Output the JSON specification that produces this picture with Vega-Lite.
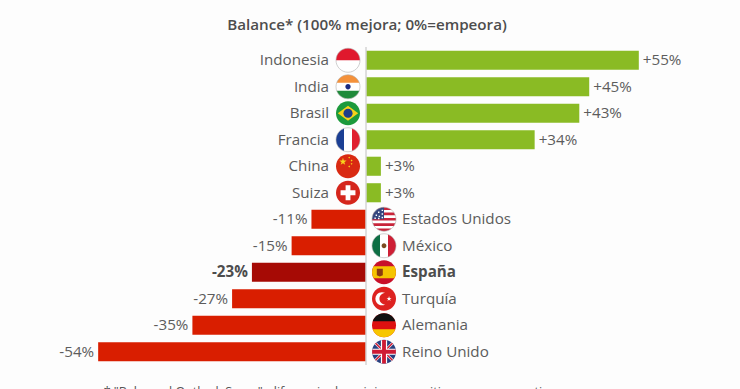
{"$schema":"https://vega.github.io/schema/vega-lite/v6.json","width":740,"height":318,"autosize":{"type":"none"},"padding":{"top":47,"bottom":24,"left":0,"right":0},"background":"#fdfdfd","view":{"stroke":null},
"title":{"text":"Balance* (100% mejora; 0%=empeora)","font":"Open Sans","fontSize":15.2,"fontWeight":600,"color":"#4d4d4d","anchor":"middle","frame":"group","offset":13,"dx":-3},
"datasets":{"paises":[
{"pais":"Indonesia","valor":55,"etiqueta":"+55%","tipo":"sube"},
{"pais":"India","valor":45,"etiqueta":"+45%","tipo":"sube"},
{"pais":"Brasil","valor":43,"etiqueta":"+43%","tipo":"sube"},
{"pais":"Francia","valor":34,"etiqueta":"+34%","tipo":"sube"},
{"pais":"China","valor":3,"etiqueta":"+3%","tipo":"sube"},
{"pais":"Suiza","valor":3,"etiqueta":"+3%","tipo":"sube"},
{"pais":"Estados Unidos","valor":-11,"etiqueta":"-11%","tipo":"baja"},
{"pais":"México","valor":-15,"etiqueta":"-15%","tipo":"baja"},
{"pais":"España","valor":-23,"etiqueta":"-23%","tipo":"espana"},
{"pais":"Turquía","valor":-27,"etiqueta":"-27%","tipo":"baja"},
{"pais":"Alemania","valor":-35,"etiqueta":"-35%","tipo":"baja"},
{"pais":"Reino Unido","valor":-54,"etiqueta":"-54%","tipo":"baja"}],
"banderas":[
{"pais":"Indonesia","lado":"pos","parte":"id-blanco"},{"pais":"Indonesia","lado":"pos","parte":"id-rojo"},
{"pais":"India","lado":"pos","parte":"in-blanco"},{"pais":"India","lado":"pos","parte":"in-naranja"},{"pais":"India","lado":"pos","parte":"in-verde"},{"pais":"India","lado":"pos","parte":"in-rueda"},
{"pais":"Brasil","lado":"pos","parte":"br-verde"},{"pais":"Brasil","lado":"pos","parte":"br-rombo"},{"pais":"Brasil","lado":"pos","parte":"br-globo"},
{"pais":"Francia","lado":"pos","parte":"fr-blanco"},{"pais":"Francia","lado":"pos","parte":"fr-azul"},{"pais":"Francia","lado":"pos","parte":"fr-rojo"},
{"pais":"China","lado":"pos","parte":"cn-rojo"},{"pais":"China","lado":"pos","parte":"cn-estrellas"},
{"pais":"Suiza","lado":"pos","parte":"ch-rojo"},{"pais":"Suiza","lado":"pos","parte":"ch-cruz"},
{"pais":"Estados Unidos","lado":"neg","parte":"us-blanco"},{"pais":"Estados Unidos","lado":"neg","parte":"us-rayas"},{"pais":"Estados Unidos","lado":"neg","parte":"us-azul"},{"pais":"Estados Unidos","lado":"neg","parte":"us-puntos"},
{"pais":"México","lado":"neg","parte":"mx-blanco"},{"pais":"México","lado":"neg","parte":"mx-verde"},{"pais":"México","lado":"neg","parte":"mx-rojo"},{"pais":"México","lado":"neg","parte":"mx-aguila"},
{"pais":"España","lado":"neg","parte":"es-rojo"},{"pais":"España","lado":"neg","parte":"es-amarillo"},{"pais":"España","lado":"neg","parte":"es-escudo"},
{"pais":"Turquía","lado":"neg","parte":"tr-rojo"},{"pais":"Turquía","lado":"neg","parte":"tr-luna"},
{"pais":"Alemania","lado":"neg","parte":"de-rojo"},{"pais":"Alemania","lado":"neg","parte":"de-negro"},{"pais":"Alemania","lado":"neg","parte":"de-amarillo"},
{"pais":"Reino Unido","lado":"neg","parte":"uk-azul"},{"pais":"Reino Unido","lado":"neg","parte":"uk-aspa-blanca"},{"pais":"Reino Unido","lado":"neg","parte":"uk-aspa-roja"},{"pais":"Reino Unido","lado":"neg","parte":"uk-cruz-blanca"},{"pais":"Reino Unido","lado":"neg","parte":"uk-cruz-roja"}]},
"data":{"name":"paises"},
"encoding":{
"y":{"field":"pais","type":"nominal","sort":null,"axis":null,"scale":{"domain":["Indonesia","India","Brasil","Francia","China","Suiza","Estados Unidos","México","España","Turquía","Alemania","Reino Unido"],"paddingInner":0.28,"paddingOuter":0.14}}},
"layer":[
{"mark":{"type":"bar"},"encoding":{
"x":{"field":"valor","type":"quantitative","scale":{"domain":[-73.79,75.4],"nice":false,"zero":false},"axis":{"domain":false,"ticks":false,"labels":false,"grid":false,"title":"* \"Balanced Outlook Score\": diferencia de opiniones positivas menos negativas","titleFont":"Open Sans","titleFontSize":12.5,"titleFontWeight":"normal","titleColor":"#555555","titleX":332,"titleY":30,"titleBaseline":"alphabetic","titleAnchor":"middle"}},
"color":{"field":"tipo","type":"nominal","legend":null,"scale":{"domain":["sube","baja","espana"],"range":["#8abb24","#d91e00","#a60a05"]}}}},
{"data":{"values":[{"cero":0}]},"mark":{"type":"rule","color":"#d4d4d4","strokeWidth":1.5},"encoding":{"y":{},"x":{"field":"cero","type":"quantitative"}}},
{"transform":[{"filter":"datum.valor>0"}],"mark":{"type":"text","align":"right","baseline":"middle","dx":-37,"font":"Open Sans","fontSize":15.2,"color":"#5c5c5c"},"encoding":{"x":{"datum":0},"text":{"field":"pais"}}},
{"transform":[{"filter":"datum.valor<0 && datum.tipo!='espana'"}],"mark":{"type":"text","align":"left","baseline":"middle","dx":36,"font":"Open Sans","fontSize":15.2,"color":"#5c5c5c"},"encoding":{"x":{"datum":0},"text":{"field":"pais"}}},
{"transform":[{"filter":"datum.tipo=='espana'"}],"mark":{"type":"text","align":"left","baseline":"middle","dx":36,"font":"Open Sans","fontSize":15.2,"fontWeight":"bold","color":"#4d4d4d"},"encoding":{"x":{"datum":0},"text":{"field":"pais"}}},
{"transform":[{"filter":"datum.valor>0"}],"mark":{"type":"text","align":"left","baseline":"middle","dx":4,"font":"Open Sans","fontSize":15.2,"color":"#5c5c5c"},"encoding":{"x":{"field":"valor","type":"quantitative"},"text":{"field":"etiqueta"}}},
{"transform":[{"filter":"datum.valor<0 && datum.tipo!='espana'"}],"mark":{"type":"text","align":"right","baseline":"middle","dx":-4,"font":"Open Sans","fontSize":15.2,"color":"#5c5c5c"},"encoding":{"x":{"field":"valor","type":"quantitative"},"text":{"field":"etiqueta"}}},
{"transform":[{"filter":"datum.tipo=='espana'"}],"mark":{"type":"text","align":"right","baseline":"middle","dx":-4,"font":"Open Sans","fontSize":15.2,"fontWeight":"bold","color":"#4d4d4d"},"encoding":{"x":{"field":"valor","type":"quantitative"},"text":{"field":"etiqueta"}}},
{"data":{"name":"banderas"},"transform":[{"filter":"datum.lado=='pos'"}],"mark":{"type":"point","filled":true,"opacity":1,"size":576,"xOffset":-18,"strokeWidth":0},"encoding":{"x":{"datum":0},
"shape":{"field":"parte","type":"nominal","legend":null,"scale":{"domain":["id-blanco","id-rojo","in-blanco","in-naranja","in-verde","in-rueda","br-verde","br-rombo","br-globo","fr-blanco","fr-azul","fr-rojo","cn-rojo","cn-estrellas","ch-rojo","ch-cruz","us-blanco","us-rayas","us-azul","us-puntos","mx-blanco","mx-verde","mx-rojo","mx-aguila","es-rojo","es-amarillo","es-escudo","tr-rojo","tr-luna","de-rojo","de-negro","de-amarillo","uk-azul","uk-aspa-blanca","uk-aspa-roja","uk-cruz-blanca","uk-cruz-roja"],
"range":["M-1 0A1 1 0 1 1 1 0A1 1 0 1 1 -1 0Z","M-1 0A1 1 0 0 1 1 0Z","M-1 0A1 1 0 1 1 1 0A1 1 0 1 1 -1 0Z","M-.943 -.333A1 1 0 0 1 .943 -.333Z","M-.943 .333A1 1 0 0 0 .943 .333Z","M-.22 0A.22 .22 0 1 1 .22 0A.22 .22 0 1 1 -.22 0Z","M-1 0A1 1 0 1 1 1 0A1 1 0 1 1 -1 0Z","M-.85 0L0 -.62L.85 0L0 .62Z","M-.38 0A.38 .38 0 1 1 .38 0A.38 .38 0 1 1 -.38 0Z","M-1 0A1 1 0 1 1 1 0A1 1 0 1 1 -1 0Z","M-.333 -.943A1 1 0 0 0 -.333 .943Z","M.333 -.943A1 1 0 0 1 .333 .943Z","M-1 0A1 1 0 1 1 1 0A1 1 0 1 1 -1 0Z","M-.42 -.7L-.348 -.479L-.116 -.479L-.304 -.342L-.232 -.121L-.42 -.258L-.608 -.121L-.536 -.342L-.724 -.479L-.492 -.479ZM.1 -.8L.18 -.72L.1 -.64L.02 -.72ZM.3 -.56L.38 -.48L.3 -.4L.22 -.48ZM.3 -.28L.38 -.2L.3 -.12L.22 -.2ZM.1 -.06L.18 .02L.1 .1L.02 .02Z","M-1 0A1 1 0 1 1 1 0A1 1 0 1 1 -1 0Z","M-.2 -.62L.2 -.62L.2 -.2L.62 -.2L.62 .2L.2 .2L.2 .62L-.2 .62L-.2 .2L-.62 .2L-.62 -.2L-.2 -.2Z","M-1 0A1 1 0 1 1 1 0A1 1 0 1 1 -1 0Z","M-.628 -.778A1 1 0 0 1 .628 -.778ZM-.831 -.556L.831 -.556L.943 -.333L-.943 -.333ZM-.994 -.111L.994 -.111L.994 .111L-.994 .111ZM-.943 .333L.943 .333L.831 .556L-.831 .556ZM-.628 .778A1 1 0 0 0 .628 .778Z","M0 -1A1 1 0 0 0 -1 0L0 0Z","M-.2 -.8L-.08 -.8L-.08 -.68L-.2 -.68ZM-.5 -.65L-.38 -.65L-.38 -.53L-.5 -.53ZM-.2 -.5L-.08 -.5L-.08 -.38L-.2 -.38ZM-.7 -.4L-.58 -.4L-.58 -.28L-.7 -.28ZM-.45 -.3L-.33 -.3L-.33 -.18L-.45 -.18ZM-.2 -.2L-.08 -.2L-.08 -.08L-.2 -.08ZM-.8 -.15L-.68 -.15L-.68 -.03L-.8 -.03ZM-.5 -.12L-.38 -.12L-.38 0L-.5 0Z","M-1 0A1 1 0 1 1 1 0A1 1 0 1 1 -1 0Z","M-.333 -.943A1 1 0 0 0 -.333 .943Z","M.333 -.943A1 1 0 0 1 .333 .943Z","M-.2 0A.2 .2 0 1 1 .2 0A.2 .2 0 1 1 -.2 0Z","M-1 0A1 1 0 1 1 1 0A1 1 0 1 1 -1 0Z","M-.866 -.5L.866 -.5A1 1 0 0 1 .866 .5L-.866 .5A1 1 0 0 1 -.866 -.5Z","M-.6 -.3L-.1 -.3L-.1 .25L-.35 .35L-.6 .25Z","M-1 0A1 1 0 1 1 1 0A1 1 0 1 1 -1 0Z","M.1 -.48A.55 .55 0 1 0 .1 .48A.44 .44 0 1 1 .1 -.48ZM.42 -.22L.47 -.068L.629 -.068L.5 .026L.549 .178L.42 .084L.291 .178L.34 .026L.211 -.068L.37 -.068Z","M-1 0A1 1 0 1 1 1 0A1 1 0 1 1 -1 0Z","M-.943 -.333A1 1 0 0 1 .943 -.333Z","M-.943 .333A1 1 0 0 0 .943 .333Z","M-1 0A1 1 0 1 1 1 0A1 1 0 1 1 -1 0Z","M-.78 -.62L-.62 -.78L.78 .62L.62 .78ZM.62 -.78L.78 -.62L-.62 .78L-.78 .62Z","M-.75 -.66L-.66 -.75L.75 .66L.66 .75ZM.66 -.75L.75 -.66L-.66 .75L-.75 .66Z","M-.26 -.965L.26 -.965L.26 -.26L.965 -.26L.965 .26L.26 .26L.26 .965L-.26 .965L-.26 .26L-.965 .26L-.965 -.26L-.26 -.26Z","M-.16 -.987L.16 -.987L.16 -.16L.987 -.16L.987 .16L.16 .16L.16 .987L-.16 .987L-.16 .16L-.987 .16L-.987 -.16L-.16 -.16Z"]}},
"color":{"field":"parte","type":"nominal","legend":null,"scale":{"domain":["id-blanco","id-rojo","in-blanco","in-naranja","in-verde","in-rueda","br-verde","br-rombo","br-globo","fr-blanco","fr-azul","fr-rojo","cn-rojo","cn-estrellas","ch-rojo","ch-cruz"],
"range":["#ffffff","#e0182d","#ffffff","#f4913a","#1f8a3a","#1a2a80","#1c9a3c","#f6d21a","#1f3f8a","#ffffff","#1b3f94","#e0202f","#d92a12","#f7d51d","#d5261c","#ffffff"]}}}},
{"data":{"name":"banderas"},"transform":[{"filter":"datum.lado=='neg'"}],"mark":{"type":"point","filled":true,"opacity":1,"size":576,"xOffset":18,"strokeWidth":0},"encoding":{"x":{"datum":0},
"shape":{"field":"parte","type":"nominal","legend":null},
"color":{"field":"parte","type":"nominal","legend":null,"scale":{"domain":["us-blanco","us-rayas","us-azul","us-puntos","mx-blanco","mx-verde","mx-rojo","mx-aguila","es-rojo","es-amarillo","es-escudo","tr-rojo","tr-luna","de-rojo","de-negro","de-amarillo","uk-azul","uk-aspa-blanca","uk-aspa-roja","uk-cruz-blanca","uk-cruz-roja"],
"range":["#ffffff","#c8243a","#35467f","#ffffff","#ffffff","#0d6e44","#ce1f35","#7a4a20","#c8102a","#f5c400","#8a3a10","#dd2220","#ffffff","#dd1010","#111111","#f7c600","#27407f","#ffffff","#cf1b34","#ffffff","#cf1b34"]}}}},
{"data":{"name":"banderas"},"transform":[{"filter":"datum.lado=='pos' && indexof(datum.parte,'blanco')>0"}],"mark":{"type":"point","filled":false,"opacity":1,"size":576,"xOffset":-18,"shape":"M-1 0A1 1 0 1 1 1 0A1 1 0 1 1 -1 0Z","stroke":"#b0b0b0","strokeWidth":0.6},"encoding":{"x":{"datum":0}}},
{"data":{"name":"banderas"},"transform":[{"filter":"datum.lado=='neg' && indexof(datum.parte,'blanco')>0 && datum.pais!='Reino Unido'"}],"mark":{"type":"point","filled":false,"opacity":1,"size":576,"xOffset":18,"shape":"M-1 0A1 1 0 1 1 1 0A1 1 0 1 1 -1 0Z","stroke":"#b0b0b0","strokeWidth":0.6},"encoding":{"x":{"datum":0}}}
],
"resolve":{"scale":{"color":"independent"}}}
